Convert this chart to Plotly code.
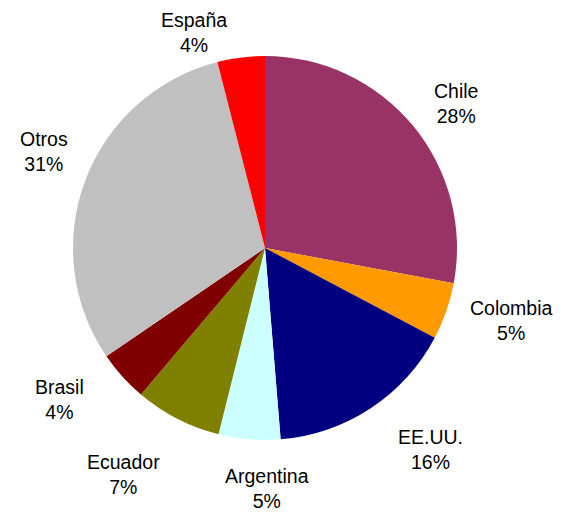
import math
import plotly.graph_objects as go

labels = ["Chile", "Colombia", "EE.UU.", "Argentina", "Ecuador", "Brasil", "Otros", "España"]
values = [28.0, 4.8, 16.0, 5.2, 7.3, 4.3, 30.6, 4.0]
colors = ["#993366", "#FF9900", "#000080", "#CCFFFF", "#808000", "#800000", "#C0C0C0", "#FF0000"]

# label nudges (px) applied after the radial placement, to mimic the original layout
nudges = [(-4, 12), (-10, -8), (23, -3), (25, -4), (-20, 8), (-13, -13), (16, -10), (-39, 28)]

W, H = 579, 515
OFF = 8  # page body margin in the browser
cx, cy, r = 265 - OFF, 248 - OFF, 192
FONT = dict(family="Liberation Sans, Arial", size=19.5, color="black")

fig = go.Figure(go.Pie(
    labels=labels,
    values=values,
    sort=False,
    direction="clockwise",
    rotation=0,
    marker=dict(colors=colors, line=dict(width=0)),
    textinfo="none",
    domain=dict(x=[(cx - r) / W, (cx + r) / W], y=[(H - cy - r) / H, (H - cy + r) / H]),
    showlegend=False,
    hoverinfo="skip",
))

total = sum(values)
cum = 0.0
annotations = []
d = 30
h = 46
for lab, v, (nx, ny) in zip(labels, values, nudges):
    theta = math.radians(360 * (cum + v / 2) / total)
    cum += v
    s, c = math.sin(theta), math.cos(theta)
    w = 12.5 * len(lab)
    px = cx + (r + d) * s + w / 2 * s + nx
    py = cy - (r + d) * c - h / 2 * c + ny
    pct = round(v / total * 100)
    annotations.append(dict(
        x=px / W, y=1 - py / H, xref="paper", yref="paper",
        text=f"{lab}<br>{pct}%", showarrow=False,
        xanchor="center", yanchor="middle", align="center", font=FONT,
    ))

fig.update_layout(
    width=W, height=H,
    margin=dict(l=0, r=0, t=0, b=0),
    paper_bgcolor="white",
    plot_bgcolor="white",
    annotations=annotations,
)
fig.write_html("out.html")
